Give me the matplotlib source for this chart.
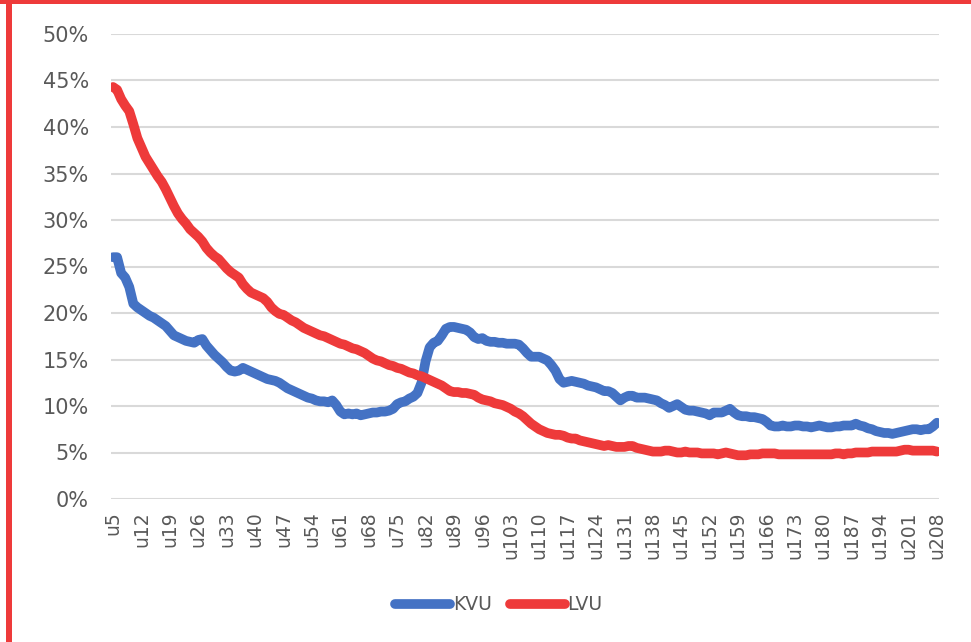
import matplotlib
matplotlib.use("Agg")
import matplotlib.pyplot as plt
from matplotlib.lines import Line2D
from matplotlib.patches import Rectangle

# ---------------- data ----------------
categories = [f"u{n}" for n in range(5, 209)]

kvu = [
    26.0, 26.0, 24.3, 23.8, 22.8, 21.0, 20.6,
    20.3, 20.0, 19.7, 19.5, 19.2, 18.9, 18.6,
    18.1, 17.6, 17.4, 17.2, 17.0, 16.9, 16.8,
    17.1, 17.2, 16.5, 16.0, 15.5, 15.1, 14.7,
    14.2, 13.8, 13.7, 13.8, 14.1, 13.9, 13.7,
    13.5, 13.3, 13.1, 12.9, 12.8, 12.7, 12.5,
    12.2, 11.9, 11.7, 11.5, 11.3, 11.1, 10.9,
    10.8, 10.6, 10.5, 10.5, 10.4, 10.6, 10.1,
    9.4, 9.1, 9.2, 9.1, 9.2, 9.0, 9.1,
    9.2, 9.3, 9.3, 9.4, 9.4, 9.5, 9.7,
    10.2, 10.4, 10.5, 10.8, 11.0, 11.4, 12.5,
    14.8, 16.3, 16.8, 17.0, 17.6, 18.3, 18.5,
    18.5, 18.4, 18.3, 18.2, 17.9, 17.4, 17.2,
    17.3, 17.0, 16.9, 16.9, 16.8, 16.8, 16.7,
    16.7, 16.7, 16.6, 16.2, 15.7, 15.3, 15.3,
    15.3, 15.1, 14.9, 14.4, 13.8, 12.9, 12.5,
    12.6, 12.7, 12.6, 12.5, 12.4, 12.2, 12.1,
    12.0, 11.8, 11.6, 11.6, 11.4, 11.0, 10.6,
    10.9, 11.1, 11.1, 10.9, 10.9, 10.9, 10.8,
    10.7, 10.6, 10.3, 10.1, 9.8, 10.0, 10.2,
    9.9, 9.6, 9.5, 9.5, 9.4, 9.3, 9.2,
    9.0, 9.3, 9.3, 9.3, 9.5, 9.7, 9.3,
    9.0, 8.9, 8.9, 8.8, 8.8, 8.7, 8.6,
    8.3, 7.9, 7.8, 7.8, 7.9, 7.8, 7.8,
    7.9, 7.9, 7.8, 7.8, 7.7, 7.8, 7.9,
    7.8, 7.7, 7.7, 7.8, 7.8, 7.9, 7.9,
    7.9, 8.1, 7.9, 7.8, 7.6, 7.5, 7.3,
    7.2, 7.1, 7.1, 7.0, 7.1, 7.2, 7.3,
    7.4, 7.5, 7.5, 7.4, 7.5, 7.5, 7.8,
    8.2,
]

lvu = [
    44.3, 44.0, 43.0, 42.3, 41.7, 40.3, 38.8,
    37.8, 36.8, 36.1, 35.4, 34.7, 34.1, 33.3,
    32.4, 31.5, 30.7, 30.1, 29.6, 29.0, 28.6,
    28.2, 27.7, 27.0, 26.5, 26.1, 25.8, 25.3,
    24.8, 24.4, 24.1, 23.8, 23.1, 22.6, 22.2,
    22.0, 21.8, 21.6, 21.2, 20.6, 20.2, 19.9,
    19.8, 19.5, 19.2, 19.0, 18.7, 18.4, 18.2,
    18.0, 17.8, 17.6, 17.5, 17.3, 17.1, 16.9,
    16.7, 16.6, 16.4, 16.2, 16.1, 15.9, 15.7,
    15.4, 15.1, 14.9, 14.8, 14.6, 14.4, 14.3,
    14.1, 14.0, 13.8, 13.6, 13.5, 13.3, 13.2,
    13.0, 12.8, 12.6, 12.4, 12.2, 11.9, 11.6,
    11.5, 11.5, 11.4, 11.4, 11.3, 11.2, 10.9,
    10.7, 10.6, 10.5, 10.3, 10.2, 10.1, 9.9,
    9.7, 9.4, 9.2, 8.9, 8.5, 8.1, 7.8,
    7.5, 7.3, 7.1, 7.0, 6.9, 6.9, 6.8,
    6.6, 6.5, 6.5, 6.3, 6.2, 6.1, 6.0,
    5.9, 5.8, 5.7, 5.8, 5.7, 5.6, 5.6,
    5.6, 5.7, 5.7, 5.5, 5.4, 5.3, 5.2,
    5.1, 5.1, 5.1, 5.2, 5.2, 5.1, 5.0,
    5.0, 5.1, 5.0, 5.0, 5.0, 4.9, 4.9,
    4.9, 4.9, 4.8, 4.9, 5.0, 4.9, 4.8,
    4.7, 4.7, 4.7, 4.8, 4.8, 4.8, 4.9,
    4.9, 4.9, 4.9, 4.8, 4.8, 4.8, 4.8,
    4.8, 4.8, 4.8, 4.8, 4.8, 4.8, 4.8,
    4.8, 4.8, 4.8, 4.9, 4.9, 4.8, 4.9,
    4.9, 5.0, 5.0, 5.0, 5.0, 5.1, 5.1,
    5.1, 5.1, 5.1, 5.1, 5.1, 5.2, 5.3,
    5.3, 5.2, 5.2, 5.2, 5.2, 5.2, 5.2,
    5.1,
]

y_ticks = [0, 5, 10, 15, 20, 25, 30, 35, 40, 45, 50]
series_names = ["KVU", "LVU"]

# ---------------- style ----------------
BLUE = "#4472C4"
RED = "#EE3A3A"
GRID = "#D9D9D9"
TXT = "#595959"

W, H = 971, 642
fig = plt.figure(figsize=(W / 100, H / 100), dpi=100)
fig.patch.set_facecolor("white")

# plot area in pixel coordinates
left, right, top, bottom = 111, 939, 34, 499
ax = fig.add_axes([left / W, (H - bottom) / H, (right - left) / W, (bottom - top) / H])

x = list(range(len(categories)))
ax.plot(x, kvu, color=BLUE, lw=7.0, solid_capstyle="round", solid_joinstyle="round", zorder=3)
ax.plot(x, lvu, color=RED, lw=7.0, solid_capstyle="round", solid_joinstyle="round", zorder=3)

ax.set_xlim(-0.5, len(categories) - 0.5)
ax.set_ylim(0, 50)
ax.set_yticks(y_ticks)
ax.set_yticklabels([f"{v}%" for v in y_ticks])
ax.yaxis.grid(True, color=GRID, lw=1.5)
ax.set_axisbelow(True)

tick_idx = list(range(0, len(categories), 7))
ax.set_xticks(tick_idx)
ax.set_xticklabels([categories[i] for i in tick_idx], rotation=90, va="top", ha="center")

for s in ax.spines.values():
    s.set_visible(False)
ax.tick_params(axis="both", length=0, colors=TXT, labelsize=13.5)
ax.tick_params(axis="y", pad=16, labelsize=15)
ax.tick_params(axis="x", pad=9)
for lab in ax.get_xticklabels() + ax.get_yticklabels():
    lab.set_color(TXT)

handles = [
    Line2D([0], [0], color=BLUE, lw=7.0, solid_capstyle="round"),
    Line2D([0], [0], color=RED, lw=7.0, solid_capstyle="round"),
]
leg = fig.legend(handles, series_names, loc="center", bbox_to_anchor=(499 / W, 1 - 605 / H),
                 ncol=2, frameon=False, fontsize=13.5, handlelength=2.9,
                 handletextpad=0.15, columnspacing=1.0)
for t in leg.get_texts():
    t.set_color(TXT)

# red frame fragments (top and left edges)
fig.add_artist(Rectangle((0, 1 - 4 / H), 1, 4 / H, transform=fig.transFigure,
                         color=RED, lw=0, zorder=5))
fig.add_artist(Rectangle((6 / W, 0), 6 / W, 1, transform=fig.transFigure,
                         color=RED, lw=0, zorder=5))

fig.savefig("out.png", dpi=100, facecolor="white")
